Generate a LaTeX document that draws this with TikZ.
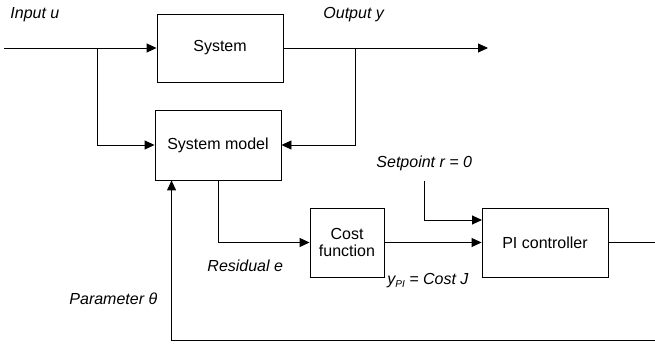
\documentclass[tikz,border=0pt]{standalone}
\usepackage{fontspec}
\setmainfont{Liberation Sans}
\usetikzlibrary{arrows.meta,calc}
\begin{document}
\begin{tikzpicture}[x=1pt,y=-1pt,
  font=\fontsize{16}{18.5}\selectfont,
  line width=0.9pt,
  tip/.style={-{Triangle[length=10pt,width=9pt]}},
  block/.style={draw,inner sep=0pt,align=center},
  lbl/.style={anchor=west,inner sep=0pt,font=\fontsize{16}{18.5}\selectfont\itshape}]
\useasboundingbox (0,0) rectangle (655,347);

% blocks
\node[block,minimum width=126pt,minimum height=68pt] (sys) at (220,48) {System};
\node[block,minimum width=126pt,minimum height=70pt] (model) at (218,145) {System model};
\node[block,minimum width=74pt,minimum height=69pt] (cost) at (347,242.5) {Cost\\[-2pt]function};
\node[block,minimum width=126pt,minimum height=69pt] (pi) at (545,242.5) {PI controller};

% free ends and branch points
\coordinate (uin) at (4,48);
\coordinate (ubr) at (97,48);
\coordinate (yout) at (488,48);
\coordinate (ybr) at (355,48);
\coordinate (sp) at (424,181);
\coordinate (spin) at (482,220);
\coordinate (piout) at (655,242.5);
\coordinate (fb) at (655,340);
\coordinate (theta) at ($(model.south west)+(17,0)$);

% signal lines
\draw[tip] (uin) -- (sys.west);
\draw[tip] (ubr) |- (model.west);
\draw[tip] (sys.east) -- (yout);
\draw[tip] (ybr) |- (model.east);
\draw[tip] (model.south) |- (cost.west);
\draw[tip] (cost.east) -- (pi.west);
\draw[tip] (sp) |- (spin);
\draw (pi.east) -- (piout);
\draw[tip] (fb) -| (theta);

% labels
\node[lbl] (lu) at (10,15) {Input u};
\node[lbl] (ly) at (323,15) {Output y};
\node[lbl] (lr) at (376,163) {Setpoint r = 0};
\node[lbl] (le) at (207,266) {Residual e};
\node[lbl] (lt) at (69,299) {Parameter θ};
\node[lbl] (lj) at (387,281) {y\raisebox{-3pt}{\fontsize{10}{10}\selectfont PI} = Cost J};
\end{tikzpicture}
\end{document}
